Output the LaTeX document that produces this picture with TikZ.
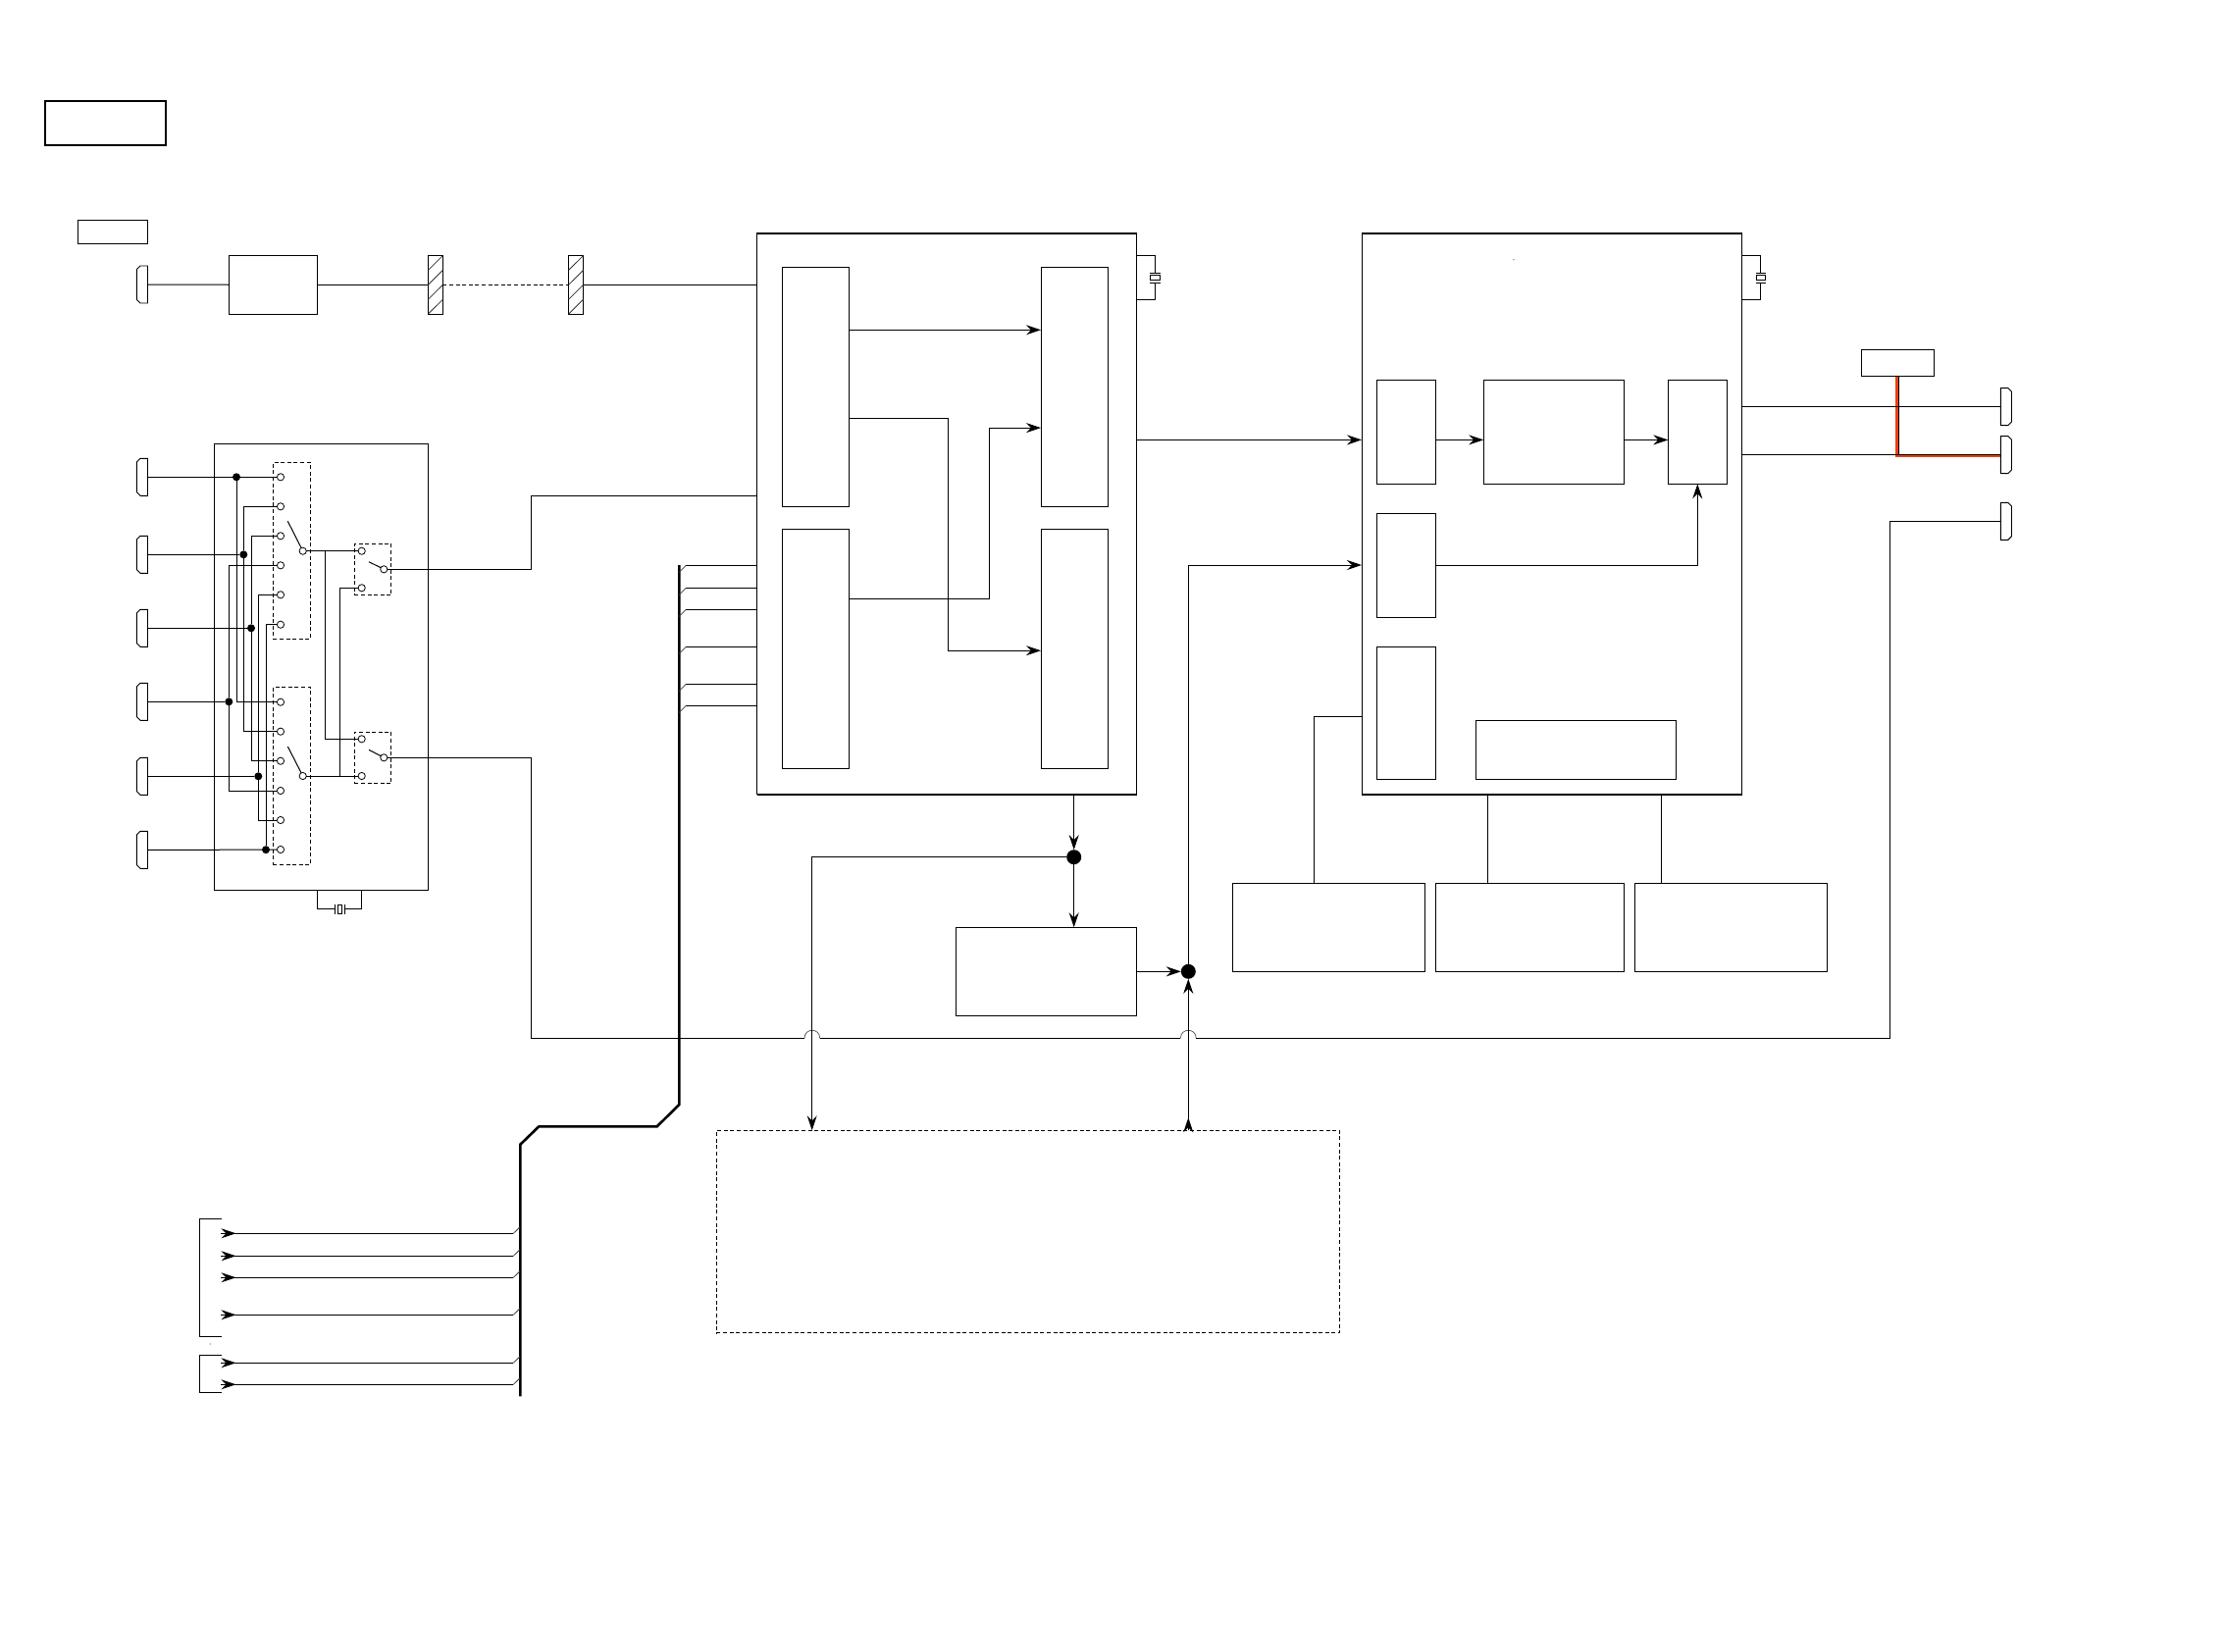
\documentclass[tikz,border=0pt]{standalone}
\usetikzlibrary{arrows.meta}
\tikzset{
  x=1pt,y=-1pt,
  wire/.style={line width=1pt,black},
  plain/.style={draw=black,line width=1pt,inner sep=0pt,outer sep=0pt,rectangle},
  dashbox/.style={plain,dash pattern=on 4pt off 2.6pt},
  heavy/.style={line width=2pt},
  pin/.style={circle,draw=black,fill=white,line width=.8pt,minimum size=7.2pt,inner sep=0pt,outer sep=0pt},
  dotsm/.style={circle,fill=black,minimum size=8pt,inner sep=0pt,outer sep=0pt},
  dotbig/.style={circle,fill=black,minimum size=15pt,inner sep=0pt,outer sep=0pt},
  head/.style={-{Stealth[length=15pt,width=10pt,inset=5pt]}},
  hump/.style={line width=.7pt,black!70},
  bus/.style={line width=2.6pt,black,line join=miter},
  stub/.style={line width=.8pt,black!75},
  hatch/.style={line width=.8pt,black!80},
  portline/.style={line width=.9pt,black},
  redline/.style={line width=3.2pt,draw={rgb,255:red,232;green,64;blue,15},line join=miter},
}
% [style]{x1}{y1}{x2}{y2}{name}
\newcommand\rectnode[6][]{\node[plain,#1,minimum width={(#4-#2)*1pt},minimum height={(#5-#3)*1pt}] (#6) at ({(#2+#4)/2},{(#3+#5)/2}) {};}
% connector with its flat face at the coordinate
\newcommand\portleft[3]{\coordinate (#1) at (#2,#3);
  \draw[portline] (#1) ++(0,-19) -- ++(-7.5,0) -- ++(-3.7,3.7) -- ++(0,30.6) -- ++(3.7,3.7) -- ++(7.5,0) -- cycle;}
\newcommand\portright[3]{\coordinate (#1) at (#2,#3);
  \draw[portline] (#1) ++(0,-19) -- ++(7.5,0) -- ++(3.7,3.7) -- ++(0,30.6) -- ++(-3.7,3.7) -- ++(-7.5,0) -- cycle;}
% vertical crystal
\newcommand\xtalv[3]{\node[plain,line width=.9pt,fill=white,minimum width=9.7pt,minimum height=5pt] (#1) at (#2,#3) {};
  \draw[wire] (#1.north) ++(-5.3,-2.2) -- ++(10.6,0);
  \draw[wire] (#1.south) ++(-5.3,2.6) -- ++(10.6,0);}
\begin{document}
\begin{tikzpicture}
\useasboundingbox (0,0) rectangle (2268,1684);
\fill[white] (0,0) rectangle (2268,1684);

% title and tag boxes
\rectnode[line width=2.2pt]{45.7}{102.7}{169.3}{148.3}{title}
\rectnode{79.4}{224.2}{150.5}{248.8}{tagA}
\rectnode{1897.3}{356.3}{1971.7}{383.3}{tagB}

% top chain
\portleft{inA}{150.5}{290}
\rectnode{233.6}{260.5}{323.5}{320}{tuner}
\rectnode{436.4}{260.5}{451.4}{320}{hatchA}
\rectnode{579.6}{260.5}{594.9}{320}{hatchB}
\foreach \n in {hatchA,hatchB}{
  \foreach \k in {1,2,3,4}{
    \draw[hatch] (\n.north west) ++(0,{14.9*\k}) -- ++(15,-14.9);
  }
}

% main boxes
\rectnode{771.6}{237.5}{1158.6}{809.8}{mainA}
\rectnode{1388}{238}{1775.7}{809.8}{mainB}
\foreach \n in {mainA,mainB}{
  \draw[heavy] (\n.north west) -- (\n.north east);
  \draw[heavy] (\n.south west) -- (\n.south east);
}
% inner blocks mainA
\rectnode{797}{272}{865.7}{516.4}{blkA}
\rectnode{1061}{272}{1129.6}{516.4}{blkB}
\rectnode{797}{539.5}{865.7}{783.3}{blkC}
\rectnode{1061}{539.5}{1129.6}{783.3}{blkD}
% inner blocks mainB
\rectnode{1403}{387.6}{1463.7}{493.3}{blkE}
\rectnode{1512.2}{387.6}{1655.4}{493.3}{blkF}
\rectnode{1700.3}{387.6}{1760.7}{493.3}{blkG}
\rectnode{1403}{523.6}{1463.7}{629.2}{blkH}
\rectnode{1403}{659.6}{1463.7}{794}{blkI}
\rectnode{1504.2}{734.8}{1708.2}{794}{blkJ}
% lower blocks
\rectnode{1256.2}{900.4}{1452.3}{990}{lowK}
\rectnode{1463}{900.4}{1655.4}{990}{lowL}
\rectnode{1666.3}{900.4}{1862.2}{990}{lowM}
\rectnode{974.3}{945.3}{1158.7}{1035.3}{mid}
\rectnode[dashbox]{730.4}{1152.3}{1365.4}{1358.9}{dashlarge}

% crystals of main boxes
\xtalv{xA}{1177.7}{283.3}
\xtalv{xB}{1794.8}{283.3}
\draw[wire] (mainA.east |- 0,260.3) -| (1177.2,278.6);
\draw[wire] (mainA.east |- 0,305.3) -| (1177.2,288.4);
\draw[wire] (mainB.east |- 0,260.3) -| (1794.3,278.6);
\draw[wire] (mainB.east |- 0,305.3) -| (1794.3,288.4);

% top chain wires
\draw[wire] (inA) -- (tuner.west);
\draw[wire] (tuner.east) -- (hatchA.west);
\draw[wire,dash pattern=on 4pt off 2.6pt] (hatchA.east) -- (hatchB.west);
\draw[wire] (hatchB.east) -- (hatchB.east -| mainA.west);

% mainA internal arrows
\draw[wire,head] (blkA.east |- 0,336.3) -- (blkB.west |- 0,336.3);
\draw[wire,head] (blkA.east |- 0,426.7) -- (966.2,426.7) -- (966.2,663.2) -- (blkD.west |- 0,663.2);
\draw[wire,head] (blkC.east |- 0,610.4) -- (1008.2,610.4) -- (1008.2,436.1) -- (blkB.west |- 0,436.1);
\draw[wire,head] (mainA.east |- 0,448.4) -- (mainB.west |- 0,448.4);

% mainB internal arrows
\draw[wire,head] (blkE.east |- 0,448.4) -- (blkF.west |- 0,448.4);
\draw[wire,head] (blkF.east |- 0,448.4) -- (blkG.west |- 0,448.4);
\draw[wire,head] (blkH.east |- 0,576) -| (blkG.south -| 1730.3,0);
\draw[wire] (mainB.west |- 0,730.4) -| (lowK.north -| 1339.4,0);
\draw[wire] (1516.6,809.8) -- (1516.6,900.4);
\draw[wire] (1693,809.8) -- (1693,900.4);

% right ports
\portright{outA}{2039.3}{414.6}
\portright{outB}{2039.3}{463.6}
\portright{outC}{2039.3}{531.3}
\draw[redline] (1934,383.3) -- (1934,464.2) -- (2039.3,464.2);
\draw[wire] (mainB.east |- outA) -- (outA);
\draw[wire] (mainB.east |- outB) -- (outB);
\draw[wire] (1935,383.3) -- (1935,463.6);
\node[plain,fill=white,minimum width=74.4pt,minimum height=27pt] (tagBtop) at (tagB) {};

% switch unit
\rectnode{218.3}{452.7}{436.3}{907.3}{unit}
\rectnode[dashbox]{278.3}{471.3}{316.3}{651.3}{swA}
\rectnode[dashbox]{278.3}{700.3}{316.3}{881.3}{swB}
\rectnode[dashbox]{361.3}{554.3}{398.7}{606.7}{swC}
\rectnode[dashbox]{361.3}{746}{398.7}{798.7}{swD}
% ports and pins
\foreach \i/\y in {1/486.3,2/565.3,3/640.3,4/715.3,5/791.3,6/866.3}{
  \portleft{pt\i}{150.5}{\y}
}
\foreach \i/\y in {1/486.3,2/516.3,3/546.3,4/576.3,5/606.3,6/636.7,7/715.7,8/745.7,9/775.7,10/806,11/836,12/866}{
  \node[pin] (c\i) at (286,\y) {};
}
\node[pin] (poleA) at (308.7,561.7) {};
\node[pin] (poleB) at (308.7,791) {};
\node[pin] (inCa) at (368.7,561.7) {};
\node[pin] (inCb) at (368.7,599.3) {};
\node[pin] (inDa) at (368.7,753.3) {};
\node[pin] (inDb) at (368.7,791) {};
\node[pin] (poleC) at (391.3,580.3) {};
\node[pin] (poleD) at (391.3,772.3) {};
\node[dotsm] (d1) at (241,486.3) {};
\node[dotsm] (d2) at (248.3,565.3) {};
\node[dotsm] (d3) at (256,640.3) {};
\node[dotsm] (d4) at (233.3,715.3) {};
\node[dotsm] (d5) at (263.3,791.3) {};
\node[dotsm] (d6) at (271,866.2) {};
\foreach \i/\j in {1/1,2/2,3/3,4/4,5/5,6/6}{
  \draw[wire] (pt\i) -- (d\j);
}
\draw[wire] (d1) -- (c1);
\draw[wire] (d6) -- (c12);
\draw[wire] (d1) |- (c7);
\draw[wire] (c2) -| (d2) |- (c8);
\draw[wire] (c3) -| (d3) |- (c9);
\draw[wire] (c4) -| (d4) |- (c10);
\draw[wire] (c5) -| (d5) |- (c11);
\draw[wire] (c6) -| (d6);
% switch arms
\coordinate (armA) at (293.3,531.3);
\coordinate (armB) at (293.3,761);
\coordinate (armC) at (376,572.7);
\coordinate (armD) at (376,764.3);
\draw[wire] (armA) -- (poleA);
\draw[wire] (armB) -- (poleB);
\draw[wire] (armC) -- (poleC);
\draw[wire] (armD) -- (poleD);
% switch outputs
\draw[wire] (poleA) -- (inCa);
\draw[wire] (poleB) -- (inDb);
\coordinate (jA) at (331.7,561.7);
\coordinate (jB) at (346.7,791);
\draw[wire] (jA) |- (inDa);
\draw[wire] (jB) |- (inCb);
% unit crystal
\node[plain,line width=.9pt,fill=white,minimum width=4pt,minimum height=9pt] (xC) at (346.3,926.8) {};
\draw[wire] (xC.west) ++(-2.9,-5) -- ++(0,10);
\draw[wire] (xC.east) ++(3.4,-5) -- ++(0,10);
\draw[wire] (323.3,907.3) |- (341.3,926.3);
\draw[wire] (368.3,907.3) |- (351.7,926.3);

% outputs of the unit
\coordinate (rA) at (541.7,505.5);
\draw[wire] (poleC) -| (rA) -- (mainA.west |- rA);
\draw[wire] (poleD) -- (541.7,772.3) -- (541.7,1058.3) -- (820,1058.3);
\draw[hump] (820,1058.3) .. controls (820,1047.6) and (835.7,1047.6) .. (835.7,1058.3);
\draw[wire] (835.7,1058.3) -- (1203.4,1058.3);
\draw[hump] (1203.4,1058.3) .. controls (1203.4,1047.6) and (1219.2,1047.6) .. (1219.2,1058.3);
\draw[wire] (1219.2,1058.3) -- (1926.7,1058.3) -- (1926.7,531.3) -- (outC);

% junctions below mainA
\node[dotbig] (jTop) at (1094.7,873.7) {};
\node[dotbig] (jLow) at (1211.3,990.3) {};
\draw[wire,head] (mainA.south -| jTop) -- (jTop);
\draw[wire,head] (jTop) -- (mid.north -| jTop);
\draw[wire,head] (jTop) -| (dashlarge.north -| 827.7,0);
\draw[wire,head] (mid.east) -- (jLow);
\draw[wire,head] (dashlarge.north -| jLow) -- (jLow);
\draw[wire,head] (dashlarge.north -| jLow) -- (1211.3,1139.3);
\draw[wire,head] (jLow) |- (mainB.west |- 0,576);

% bus
\coordinate (busTop) at (692.3,576);
\coordinate (busEnd) at (530.3,1423.3);
\draw[bus] (busTop) -- (692.3,1126) -- (669.7,1148.3) -- (549.3,1148.3) -- (530.3,1166.7) -- (busEnd);
\foreach \y in {576.3,599.3,621.3,659.3,697.3,719.3}{
  \draw[wire] (mainA.west |- 0,\y) -- (699.3,\y);
  \draw[stub] (699.3,\y) -- (692.3,{\y+7});
}
\foreach \y in {1257.3,1280.3,1302.3,1340.3,1389.3,1411.3}{
  \draw[wire] (523.3,\y) -- (238,\y);
  \draw[stub] (523.3,\y) -- (530,{\y-6.5});
  \draw[wire,head] (225,\y) -- (240.5,\y);
}
% brackets
\coordinate (brA1) at (225.7,1242.3);
\coordinate (brA2) at (225.7,1362.3);
\coordinate (brB1) at (225.7,1381.3);
\coordinate (brB2) at (225.7,1419.3);
\draw[wire] (brA1) -- (203.3,1242.3) -- (203.3,1362.3) -- (brA2);
\draw[wire] (brB1) -- (203.3,1381.3) -- (203.3,1419.3) -- (brB2);
% specks
\fill[black!70] (214.3,1370) circle[radius=.6];
\fill[black!70] (1543,264.7) circle[radius=.6];
\end{tikzpicture}
\end{document}
